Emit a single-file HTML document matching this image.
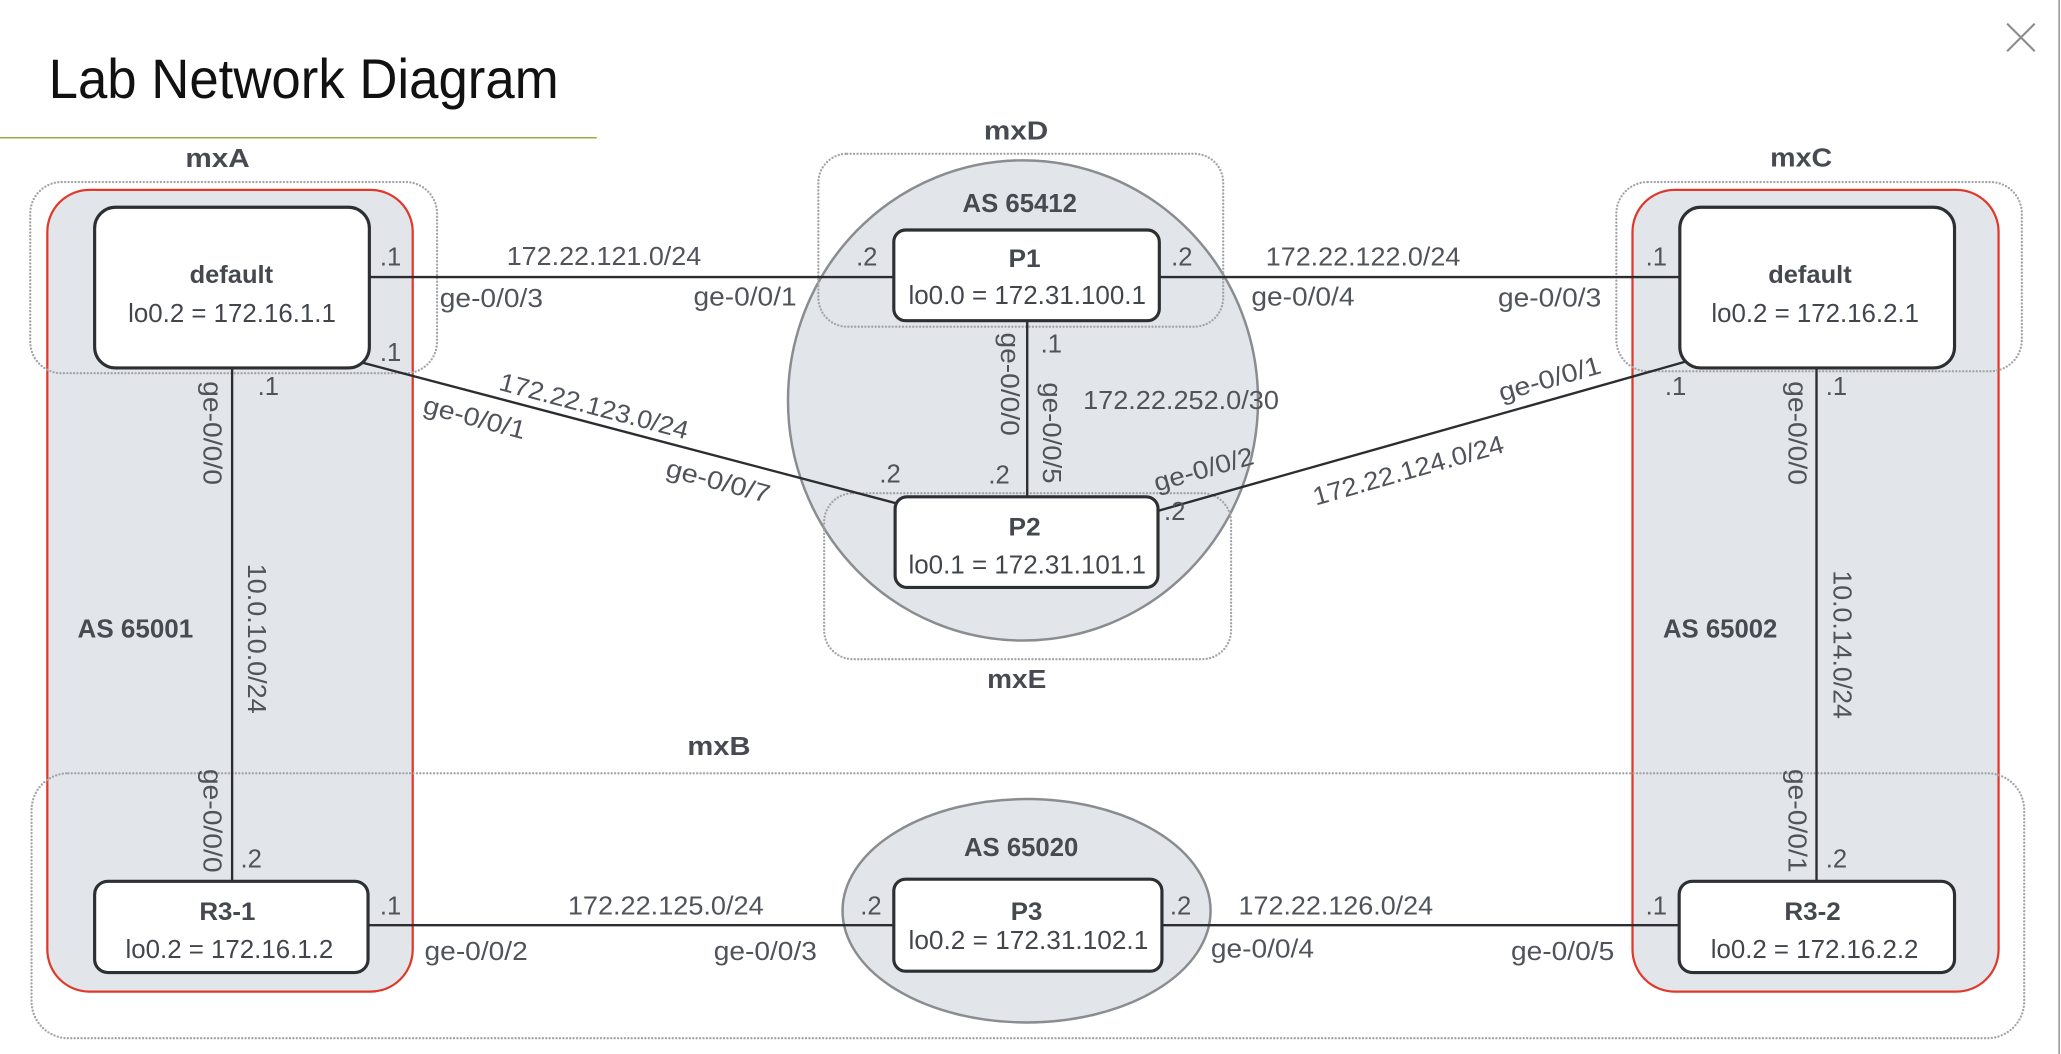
<!DOCTYPE html>
<html>
<head>
<meta charset="utf-8">
<style>
html,body{margin:0;padding:0;background:#fff;}
svg{display:block;}
text{font-family:"Liberation Sans",sans-serif;}
.lb{font-size:19.5px;fill:#50545a;}
.bd{font-size:19.5px;font-weight:bold;fill:#474b51;}
.nt{font-size:19px;font-weight:bold;fill:#45494f;text-anchor:middle;}
.nl{font-size:19.5px;fill:#42464b;text-anchor:middle;}
.dot{fill:none;stroke:#a2a4a7;stroke-width:1.8;stroke-dasharray:0 2.6;stroke-linecap:round;}
.ln{stroke:#2b2d30;stroke-width:1.8;fill:none;}
.box{fill:#fff;stroke:#2d2f33;stroke-width:2.4;}
</style>
</head>
<body>
<svg width="2061" height="1054" viewBox="0 0 1568 802" preserveAspectRatio="none" xmlns="http://www.w3.org/2000/svg">
<!-- header -->
<text x="37" y="74.5" font-size="42" fill="#111" textLength="388" lengthAdjust="spacingAndGlyphs">Lab Network Diagram</text>
<line x1="0" y1="104.8" x2="454" y2="104.8" stroke="#8db13e" stroke-width="1.2"/>
<line x1="1527" y1="18" x2="1548" y2="39" stroke="#8c8c8c" stroke-width="1.6"/>
<line x1="1548" y1="18" x2="1527" y2="39" stroke="#8c8c8c" stroke-width="1.6"/>
<line x1="1566.6" y1="0" x2="1566.6" y2="802" stroke="#9a9a9a" stroke-width="1.2"/>

<!-- AS containers -->
<rect x="36" y="144.5" width="278" height="610" rx="32" ry="32" fill="#e2e6ea" stroke="#e0392b" stroke-width="1.7"/>
<rect x="1242" y="144.5" width="278.5" height="610" rx="32" ry="32" fill="#e2e6ea" stroke="#e0392b" stroke-width="1.7"/>
<ellipse cx="778.3" cy="304.7" rx="178.8" ry="182.7" fill="#e2e6ea" stroke="#8a8d90" stroke-width="1.9"/>
<ellipse cx="781" cy="693" rx="140" ry="85" fill="#e2e6ea" stroke="#8a8d90" stroke-width="1.9"/>

<!-- dotted device containers -->
<rect class="dot" x="23" y="138.5" width="309.5" height="145.5" rx="24" ry="24"/>
<rect class="dot" x="1229.7" y="138.5" width="308.5" height="144" rx="24" ry="24"/>
<rect class="dot" x="622.6" y="117" width="308" height="131.6" rx="22" ry="22"/>
<rect class="dot" x="627" y="375.3" width="309.6" height="126.3" rx="22" ry="22"/>
<rect class="dot" x="24" y="588.4" width="1516" height="201.6" rx="28" ry="28"/>

<!-- connectors -->
<line class="ln" x1="281" y1="210.8" x2="680" y2="210.8"/>
<line class="ln" x1="882" y1="210.8" x2="1283" y2="210.8"/>
<line class="ln" x1="274" y1="275.5" x2="682" y2="383"/>
<line class="ln" x1="880" y1="389" x2="1283" y2="275"/>
<line class="ln" x1="176.6" y1="280" x2="176.6" y2="671"/>
<line class="ln" x1="1382" y1="280" x2="1382" y2="671"/>
<line class="ln" x1="781.5" y1="244" x2="781.5" y2="378"/>
<line class="ln" x1="280" y1="704" x2="1278" y2="704"/>

<!-- nodes -->
<rect class="box" x="72" y="157.7" width="209" height="122.3" rx="16" ry="16"/>
<rect class="box" x="1278" y="157.7" width="209" height="122.3" rx="16" ry="16"/>
<rect class="box" x="680" y="175" width="202" height="69" rx="9" ry="9"/>
<rect class="box" x="681" y="378" width="200" height="69" rx="9" ry="9"/>
<rect class="box" x="680" y="669" width="204" height="70" rx="9" ry="9"/>
<rect class="box" x="72" y="670.6" width="208" height="69.4" rx="10" ry="10"/>
<rect class="box" x="1277.5" y="670.6" width="209.5" height="69.4" rx="10" ry="10"/>

<!-- node text -->
<text class="nt" x="176" y="215.5" textLength="63.5" lengthAdjust="spacingAndGlyphs">default</text>
<text class="nl" x="176.5" y="245" textLength="158" lengthAdjust="spacingAndGlyphs">lo0.2 = 172.16.1.1</text>
<text class="nt" x="1377" y="215.5" textLength="63.5" lengthAdjust="spacingAndGlyphs">default</text>
<text class="nl" x="1381" y="245" textLength="158" lengthAdjust="spacingAndGlyphs">lo0.2 = 172.16.2.1</text>
<text class="nt" x="779.5" y="203" textLength="24.5" lengthAdjust="spacingAndGlyphs">P1</text>
<text class="nl" x="781.5" y="231.2" textLength="180.7" lengthAdjust="spacingAndGlyphs">lo0.0 = 172.31.100.1</text>
<text class="nt" x="779.5" y="407.3" textLength="24.5" lengthAdjust="spacingAndGlyphs">P2</text>
<text class="nl" x="781.5" y="436.5" textLength="180.7" lengthAdjust="spacingAndGlyphs">lo0.1 = 172.31.101.1</text>
<text class="nt" x="781" y="700" textLength="24" lengthAdjust="spacingAndGlyphs">P3</text>
<text class="nl" x="782.4" y="722.2" textLength="182.4" lengthAdjust="spacingAndGlyphs">lo0.2 = 172.31.102.1</text>
<text class="nt" x="173" y="700" textLength="42.7" lengthAdjust="spacingAndGlyphs">R3-1</text>
<text class="nl" x="174.5" y="729" textLength="158" lengthAdjust="spacingAndGlyphs">lo0.2 = 172.16.1.2</text>
<text class="nt" x="1379" y="700" textLength="42.9" lengthAdjust="spacingAndGlyphs">R3-2</text>
<text class="nl" x="1380.5" y="729" textLength="158" lengthAdjust="spacingAndGlyphs">lo0.2 = 172.16.2.2</text>

<!-- container labels -->
<text class="bd" x="141" y="127" textLength="49" lengthAdjust="spacingAndGlyphs">mxA</text>
<text class="bd" x="748.5" y="106" textLength="49" lengthAdjust="spacingAndGlyphs">mxD</text>
<text class="bd" x="1346.7" y="126.8" textLength="47.2" lengthAdjust="spacingAndGlyphs">mxC</text>
<text class="bd" x="751" y="523.7" textLength="45" lengthAdjust="spacingAndGlyphs">mxE</text>
<text class="bd" x="523" y="574.5" textLength="48" lengthAdjust="spacingAndGlyphs">mxB</text>
<text class="bd" x="732.3" y="161.3" textLength="87" lengthAdjust="spacingAndGlyphs">AS 65412</text>
<text class="bd" x="733.4" y="651.2" textLength="87" lengthAdjust="spacingAndGlyphs">AS 65020</text>
<text class="bd" x="59" y="485" textLength="88" lengthAdjust="spacingAndGlyphs">AS 65001</text>
<text class="bd" x="1265.2" y="485" textLength="87" lengthAdjust="spacingAndGlyphs">AS 65002</text>

<!-- address labels -->
<text class="lb" x="289" y="202">.1</text>
<text class="lb" x="289" y="274.7">.1</text>
<text class="lb" x="196" y="300.5">.1</text>
<text class="lb" x="651.3" y="202">.2</text>
<text class="lb" x="891" y="202">.2</text>
<text class="lb" x="1252" y="202">.1</text>
<text class="lb" x="669" y="367">.2</text>
<text class="lb" x="752" y="368">.2</text>
<text class="lb" x="791.7" y="268.2">.1</text>
<text class="lb" x="885.6" y="395.6">.2</text>
<text class="lb" x="1266.6" y="300.5">.1</text>
<text class="lb" x="1389" y="300.5">.1</text>
<text class="lb" x="183" y="660">.2</text>
<text class="lb" x="289" y="696">.1</text>
<text class="lb" x="654.5" y="696">.2</text>
<text class="lb" x="890" y="696">.2</text>
<text class="lb" x="1252" y="696">.1</text>
<text class="lb" x="1389" y="660">.2</text>

<!-- horizontal interface / subnet labels -->
<text class="lb" x="385.5" y="201.6" textLength="148" lengthAdjust="spacingAndGlyphs">172.22.121.0/24</text>
<text class="lb" x="334.6" y="233.5" textLength="78.5" lengthAdjust="spacingAndGlyphs">ge-0/0/3</text>
<text class="lb" x="527.6" y="232.5" textLength="78.5" lengthAdjust="spacingAndGlyphs">ge-0/0/1</text>
<text class="lb" x="963" y="202" textLength="148" lengthAdjust="spacingAndGlyphs">172.22.122.0/24</text>
<text class="lb" x="952" y="232.5" textLength="78.5" lengthAdjust="spacingAndGlyphs">ge-0/0/4</text>
<text class="lb" x="1139.7" y="233.3" textLength="78.5" lengthAdjust="spacingAndGlyphs">ge-0/0/3</text>
<text class="lb" x="824" y="311.2" textLength="149" lengthAdjust="spacingAndGlyphs">172.22.252.0/30</text>
<text class="lb" x="432" y="696" textLength="149" lengthAdjust="spacingAndGlyphs">172.22.125.0/24</text>
<text class="lb" x="323" y="730.5" textLength="78.5" lengthAdjust="spacingAndGlyphs">ge-0/0/2</text>
<text class="lb" x="543" y="730.5" textLength="78.5" lengthAdjust="spacingAndGlyphs">ge-0/0/3</text>
<text class="lb" x="942.3" y="696" textLength="148" lengthAdjust="spacingAndGlyphs">172.22.126.0/24</text>
<text class="lb" x="921.2" y="728.5" textLength="78.5" lengthAdjust="spacingAndGlyphs">ge-0/0/4</text>
<text class="lb" x="1149.6" y="730.5" textLength="78.5" lengthAdjust="spacingAndGlyphs">ge-0/0/5</text>

<!-- vertical labels -->
<text class="lb" transform="translate(155,290) rotate(90)" textLength="79" lengthAdjust="spacingAndGlyphs">ge-0/0/0</text>
<text class="lb" transform="translate(188.5,429) rotate(90)" textLength="114" lengthAdjust="spacingAndGlyphs">10.0.10.0/24</text>
<text class="lb" transform="translate(155,585) rotate(90)" textLength="79" lengthAdjust="spacingAndGlyphs">ge-0/0/0</text>
<text class="lb" transform="translate(1360.5,290) rotate(90)" textLength="79" lengthAdjust="spacingAndGlyphs">ge-0/0/0</text>
<text class="lb" transform="translate(1395,434) rotate(90)" textLength="113" lengthAdjust="spacingAndGlyphs">10.0.14.0/24</text>
<text class="lb" transform="translate(1360.5,585) rotate(90)" textLength="79" lengthAdjust="spacingAndGlyphs">ge-0/0/1</text>
<text class="lb" transform="translate(761.4,253) rotate(90)" textLength="78.6" lengthAdjust="spacingAndGlyphs">ge-0/0/0</text>
<text class="lb" transform="translate(793.5,291) rotate(90)" textLength="77" lengthAdjust="spacingAndGlyphs">ge-0/0/5</text>

<!-- diagonal labels -->
<text class="lb" transform="translate(378.7,296.5) rotate(14.78)" textLength="148" lengthAdjust="spacingAndGlyphs">172.22.123.0/24</text>
<text class="lb" transform="translate(321,314) rotate(14.78)" textLength="79.6" lengthAdjust="spacingAndGlyphs">ge-0/0/1</text>
<text class="lb" transform="translate(505.6,362.1) rotate(14.78)" textLength="81" lengthAdjust="spacingAndGlyphs">ge-0/0/7</text>
<text class="lb" transform="translate(880,374) rotate(-15.8)" textLength="78" lengthAdjust="spacingAndGlyphs">ge-0/0/2</text>
<text class="lb" transform="translate(1001,384.7) rotate(-15.8)" textLength="150" lengthAdjust="spacingAndGlyphs">172.22.124.0/24</text>
<text class="lb" transform="translate(1142.3,305.4) rotate(-15.8)" textLength="80" lengthAdjust="spacingAndGlyphs">ge-0/0/1</text>
</svg>
</body>
</html>
